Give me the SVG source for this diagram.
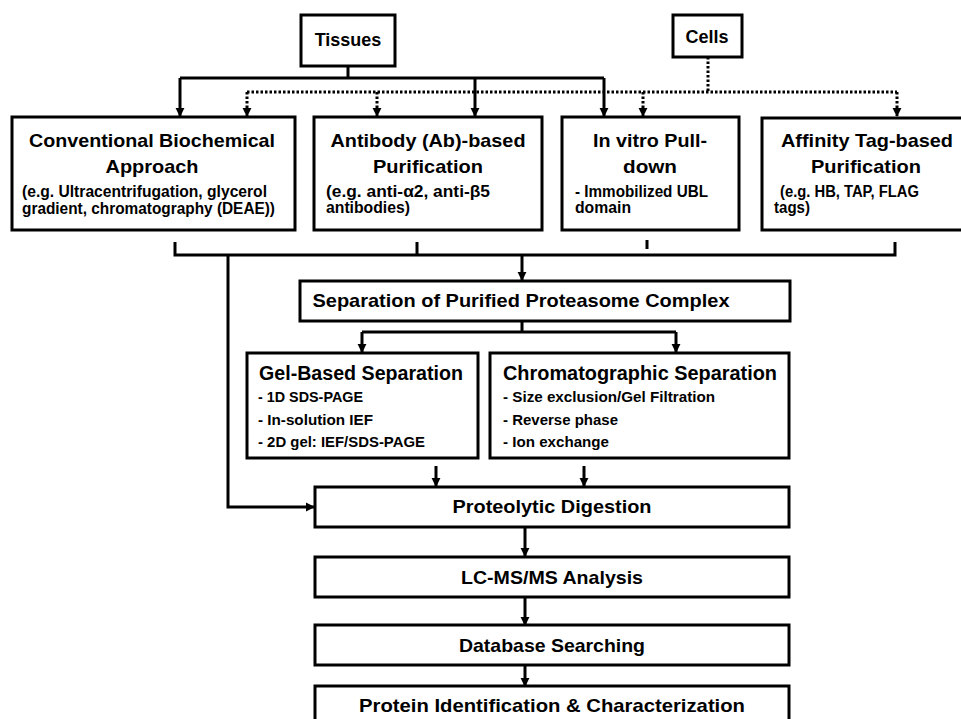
<svg xmlns="http://www.w3.org/2000/svg" width="961" height="719" viewBox="0 0 961 719">
<style>
.box{fill:#fff;stroke:#000;stroke-width:3}
.ln{fill:none;stroke:#000;stroke-width:3}
.dot{fill:none;stroke:#000;stroke-width:3;stroke-dasharray:2.5 2}
text{font-family:"Liberation Sans",Arial,sans-serif;fill:#000}
.t{font-weight:bold;font-size:19px}
.d{font-size:16px;font-weight:bold}
.s{font-size:15px;font-weight:bold}
.c{text-anchor:middle}
</style>
<defs>
<marker id="ah" viewBox="0 0 10 10" refX="9" refY="5" markerWidth="9" markerHeight="10" markerUnits="userSpaceOnUse" orient="auto">
<path d="M0,0 L10,5 L0,10 z" fill="#000"/>
</marker>
</defs>
<rect width="961" height="719" fill="#fff"/>
<g id="connectors">
<path class="ln" d="M348 66 V78 M180 78 H604"/>
<path class="ln" d="M180 78 V116" marker-end="url(#ah)"/>
<path class="ln" d="M475 78 V116" marker-end="url(#ah)"/>
<path class="ln" d="M604 78 V116" marker-end="url(#ah)"/>
<path class="dot" d="M708 57 V92 M247 92 H897"/>
<path class="dot" d="M247 92 V116" marker-end="url(#ah)"/>
<path class="dot" d="M377 92 V116" marker-end="url(#ah)"/>
<path class="dot" d="M643 92 V116" marker-end="url(#ah)"/>
<path class="dot" d="M897 92 V116" marker-end="url(#ah)"/>
<path class="ln" d="M175 242 V255 H895 V242 M417 242 V255 M647 240 V249"/>
<path class="ln" d="M522 255 V280" marker-end="url(#ah)"/>
<path class="ln" d="M228 255 V507 H314" marker-end="url(#ah)"/>
<path class="ln" d="M522 321 V332 M362 332 H676"/>
<path class="ln" d="M362 332 V352" marker-end="url(#ah)"/>
<path class="ln" d="M676 332 V352" marker-end="url(#ah)"/>
<path class="ln" d="M436 466 V486" marker-end="url(#ah)"/>
<path class="ln" d="M584 466 V486" marker-end="url(#ah)"/>
<path class="ln" d="M525 527 V556" marker-end="url(#ah)"/>
<path class="ln" d="M525 597 V625" marker-end="url(#ah)"/>
<path class="ln" d="M525 665 V686" marker-end="url(#ah)"/>
</g>
<g id="tissues">
<rect class="box" x="301" y="15" width="94" height="51"/>
<text class="t c" x="348" y="46" style="font-size:18px">Tissues</text>
</g>
<g id="cells">
<rect class="box" x="673" y="15" width="69" height="42"/>
<text class="t c" x="707" y="43" style="font-size:18px">Cells</text>
</g>
<g id="conventional">
<rect class="box" x="12" y="117" width="283" height="113"/>
<text class="t c" x="152" y="147" textLength="246" lengthAdjust="spacingAndGlyphs">Conventional Biochemical</text>
<text class="t c" x="152" y="173" textLength="93" lengthAdjust="spacingAndGlyphs">Approach</text>
<text class="d" x="22" y="197" textLength="245" lengthAdjust="spacingAndGlyphs">(e.g. Ultracentrifugation, glycerol</text>
<text class="d" x="22" y="214" textLength="253" lengthAdjust="spacingAndGlyphs">gradient, chromatography (DEAE))</text>
</g>
<g id="antibody">
<rect class="box" x="314" y="117" width="228" height="113"/>
<text class="t c" x="428" y="147" textLength="195" lengthAdjust="spacingAndGlyphs">Antibody (Ab)-based</text>
<text class="t c" x="428" y="173" textLength="110" lengthAdjust="spacingAndGlyphs">Purification</text>
<text class="d" x="326" y="197" textLength="164" lengthAdjust="spacingAndGlyphs">(e.g.  anti-α2,  anti-β5</text>
<text class="d" x="326" y="213" textLength="84" lengthAdjust="spacingAndGlyphs">antibodies)</text>
</g>
<g id="invitro">
<rect class="box" x="562" y="117" width="177" height="113"/>
<text class="t c" x="650" y="147" textLength="114" lengthAdjust="spacingAndGlyphs">In vitro Pull-</text>
<text class="t c" x="650" y="173" textLength="54" lengthAdjust="spacingAndGlyphs">down</text>
<text class="d" x="575" y="197" textLength="133" lengthAdjust="spacingAndGlyphs">- Immobilized UBL</text>
<text class="d" x="575" y="213" textLength="56" lengthAdjust="spacingAndGlyphs">domain</text>
</g>
<g id="affinity">
<rect class="box" x="762" y="118" width="210" height="112"/>
<text class="t c" x="867" y="147" textLength="172" lengthAdjust="spacingAndGlyphs">Affinity Tag-based</text>
<text class="t c" x="866" y="173" textLength="110" lengthAdjust="spacingAndGlyphs">Purification</text>
<text class="d" x="780" y="197" textLength="139" lengthAdjust="spacingAndGlyphs">(e.g. HB, TAP, FLAG</text>
<text class="d" x="774" y="213" textLength="36" lengthAdjust="spacingAndGlyphs">tags)</text>
</g>
<g id="separation">
<rect class="box" x="300" y="281" width="490" height="40"/>
<text class="t c" x="521" y="307" textLength="417" lengthAdjust="spacingAndGlyphs">Separation of Purified Proteasome Complex</text>
</g>
<g id="gel">
<rect class="box" x="247" y="353" width="231" height="105"/>
<text class="t" x="259" y="380" style="font-size:20px" textLength="204" lengthAdjust="spacingAndGlyphs">Gel-Based Separation</text>
<text class="s" x="258" y="402" textLength="105" lengthAdjust="spacingAndGlyphs">- 1D SDS-PAGE</text>
<text class="s" x="258" y="425" textLength="115" lengthAdjust="spacingAndGlyphs">- In-solution  IEF</text>
<text class="s" x="258" y="447" textLength="167" lengthAdjust="spacingAndGlyphs">- 2D gel: IEF/SDS-PAGE</text>
</g>
<g id="chrom">
<rect class="box" x="490" y="353" width="299" height="105"/>
<text class="t" x="503" y="380" style="font-size:20px" textLength="274" lengthAdjust="spacingAndGlyphs">Chromatographic Separation</text>
<text class="s" x="503" y="402" textLength="212" lengthAdjust="spacingAndGlyphs">- Size exclusion/Gel Filtration</text>
<text class="s" x="503" y="425" textLength="115" lengthAdjust="spacingAndGlyphs">- Reverse phase</text>
<text class="s" x="503" y="447" textLength="106" lengthAdjust="spacingAndGlyphs">- Ion exchange</text>
</g>
<g id="digestion">
<rect class="box" x="315" y="487" width="474" height="40"/>
<text class="t c" x="552" y="513" textLength="199" lengthAdjust="spacingAndGlyphs">Proteolytic Digestion</text>
</g>
<g id="lcms">
<rect class="box" x="315" y="557" width="474" height="40"/>
<text class="t c" x="552" y="584" textLength="182" lengthAdjust="spacingAndGlyphs">LC-MS/MS Analysis</text>
</g>
<g id="database">
<rect class="box" x="315" y="625" width="474" height="40"/>
<text class="t c" x="552" y="652" textLength="186" lengthAdjust="spacingAndGlyphs">Database Searching</text>
</g>
<g id="protein">
<rect class="box" x="315" y="686" width="474" height="45"/>
<text class="t c" x="552" y="712" textLength="386" lengthAdjust="spacingAndGlyphs">Protein Identification &amp; Characterization</text>
</g>
</svg>
